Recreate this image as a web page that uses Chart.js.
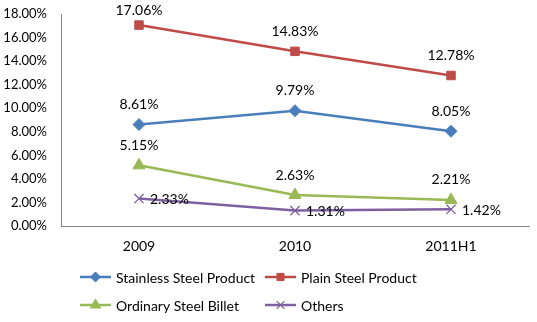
<!DOCTYPE html>
<html>
<head>
<meta charset="utf-8">
<script src="https://cdn.jsdelivr.net/npm/chart.js@4"></script>
<style>
  html, body { margin: 0; padding: 0; background: #fff; }
  #wrap { width: 537px; height: 322px; }
</style>
</head>
<body>
<div id="wrap"><canvas id="myChart" width="537" height="322"></canvas></div>
<script>
const periods = ["2009", "2010", "2011H1"];
const stainless = [8.61, 9.79, 8.05];
const plain = [17.06, 14.83, 12.78];
const billet = [5.15, 2.63, 2.21];
const others = [2.33, 1.31, 1.42];

const FONT = "Lato, 'Open Sans', sans-serif";

// value labels: above the marker, or to its right for "right" series
const valueLabels = {
  id: "valueLabels",
  afterDatasetsDraw(chart) {
    const ctx = chart.ctx;
    ctx.save();
    ctx.font = "14px " + FONT;
    ctx.fillStyle = "#000";
    chart.data.datasets.forEach((ds, i) => {
      const meta = chart.getDatasetMeta(i);
      meta.data.forEach((pt, j) => {
        const txt = ds.data[j].toFixed(2) + "%";
        if (ds.labelSide === "right") {
          ctx.textAlign = "left";
          ctx.textBaseline = "middle";
          ctx.fillText(txt, pt.x + 11, pt.y + 1);
        } else {
          ctx.textAlign = "center";
          ctx.textBaseline = "middle";
          ctx.fillText(txt, pt.x, Math.max(10, pt.y - 20));
        }
      });
    });
    ctx.restore();
  }
};

// two-column legend with line + marker swatches
const gridLegend = {
  id: "gridLegend",
  afterDraw(chart) {
    const ctx = chart.ctx;
    const cols = [80, 265];
    const rows = [277, 305];
    ctx.save();
    ctx.font = "14px " + FONT;
    ctx.textBaseline = "middle";
    ctx.textAlign = "left";
    chart.data.datasets.forEach((ds, i) => {
      const x = cols[i % 2];
      const y = rows[Math.floor(i / 2)];
      ctx.strokeStyle = ds.borderColor;
      ctx.fillStyle = ds.borderColor;
      ctx.lineWidth = 2.5;
      ctx.beginPath();
      ctx.moveTo(x, y);
      ctx.lineTo(x + 31, y);
      ctx.stroke();
      ctx.lineWidth = ds.pointBorderWidth;
      Chart.helpers.drawPoint(ctx, {
        pointStyle: ds.pointStyle,
        radius: ds.pointRadius - 1,
        rotation: 0,
        borderWidth: ds.pointBorderWidth
      }, x + 15.5, y);
      ctx.fillStyle = "#000";
      ctx.fillText(ds.label, x + 36, y + 1);
    });
    ctx.restore();
  }
};

function series(label, data, color, style, radius, side) {
  return {
    label: label,
    data: data,
    borderColor: color,
    backgroundColor: color,
    pointBackgroundColor: color,
    pointBorderColor: color,
    pointStyle: style,
    pointRadius: radius,
    pointBorderWidth: style === "crossRot" ? 1.3 : 1,
    borderWidth: 2.5,
    tension: 0,
    labelSide: side
  };
}

new Chart(document.getElementById("myChart"), {
  type: "line",
  data: {
    labels: periods,
    datasets: [
      series("Stainless Steel Product", stainless, "#4a7ebb", "rectRot", 6, "top"),
      series("Plain Steel Product", plain, "#be4b48", "rect", 6, "top"),
      series("Ordinary Steel Billet", billet, "#98b954", "triangle", 7, "top"),
      series("Others", others, "#7d60a0", "crossRot", 6.5, "right")
    ]
  },
  plugins: [valueLabels, gridLegend],
  options: {
    responsive: false,
    animation: false,
    layout: { padding: { top: 14, right: 7, bottom: 66, left: 0 } },
    plugins: {
      legend: { display: false },
      tooltip: { enabled: false }
    },
    scales: {
      x: {
        offset: true,
        grid: { display: false, drawTicks: false },
        border: { color: "#868686", width: 1 },
        ticks: { color: "#000", font: { family: FONT, size: 14 }, padding: 12 },
        afterFit(scale) { scale.height = 30; }
      },
      y: {
        min: 0,
        max: 18,
        grid: { display: false, drawTicks: false },
        border: { color: "#868686", width: 1 },
        ticks: {
          stepSize: 2,
          color: "#000",
          font: { family: FONT, size: 13 },
          padding: 14,
          callback: (v) => v.toFixed(2) + "%"
        },
        afterFit(scale) {
          scale.width = 61;
          scale.paddingTop = 0;
        }
      }
    }
  }
});
</script>
</body>
</html>
